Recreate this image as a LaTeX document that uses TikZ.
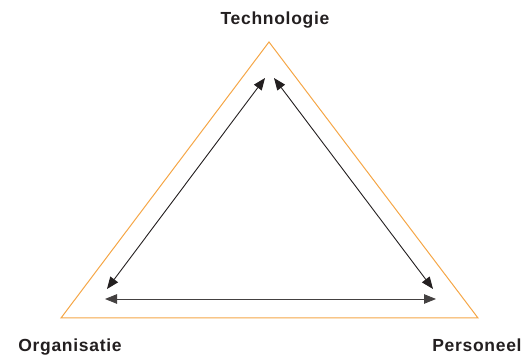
\documentclass[tikz,border=0pt]{standalone}
\usepackage{fontspec}
\setmainfont{Liberation Sans}[LetterSpace=4]
\usetikzlibrary{arrows.meta}
\usetikzlibrary{positioning}
\definecolor{triorange}{RGB}{245,166,70}
\definecolor{arrowgray}{RGB}{35,31,32}
\tikzset{
label/.style={font=\bfseries\fontsize{17.5}{19}\selectfont, text=arrowgray, inner sep=0pt, anchor=base},
link/.style={draw=arrowgray, line width=0.9pt, {Triangle[length=12pt,width=9.5pt]}-{Triangle[length=12pt,width=9.5pt]}}
}
\begin{document}
\begin{tikzpicture}[x=1pt,y=-1pt]
\useasboundingbox (0,0) rectangle (523,355);
\coordinate (top) at (269,42);
\coordinate (left) at (61,318);
\coordinate (right) at (478,318);
\draw[triorange, line width=1pt] (top) -- (left) -- (right) -- cycle;
\coordinate (t1) at (265,78);
\coordinate (t2) at (274,78);
\coordinate (l1) at (107,289);
\coordinate (l2) at (105,299);
\coordinate (r1) at (433,289);
\coordinate (r2) at (436,299);
\draw[link] (t1) -- (l1);
\draw[link] (t2) -- (r1);
\draw[link, draw=arrowgray!85] (l2) -- (r2);
\node[label] (tech) at (275,25) {Technologie};
\node[label] (org) at (70,352) {Organisatie};
\node[label] (pers) at (477,352) {Personeel};
\end{tikzpicture}
\end{document}
